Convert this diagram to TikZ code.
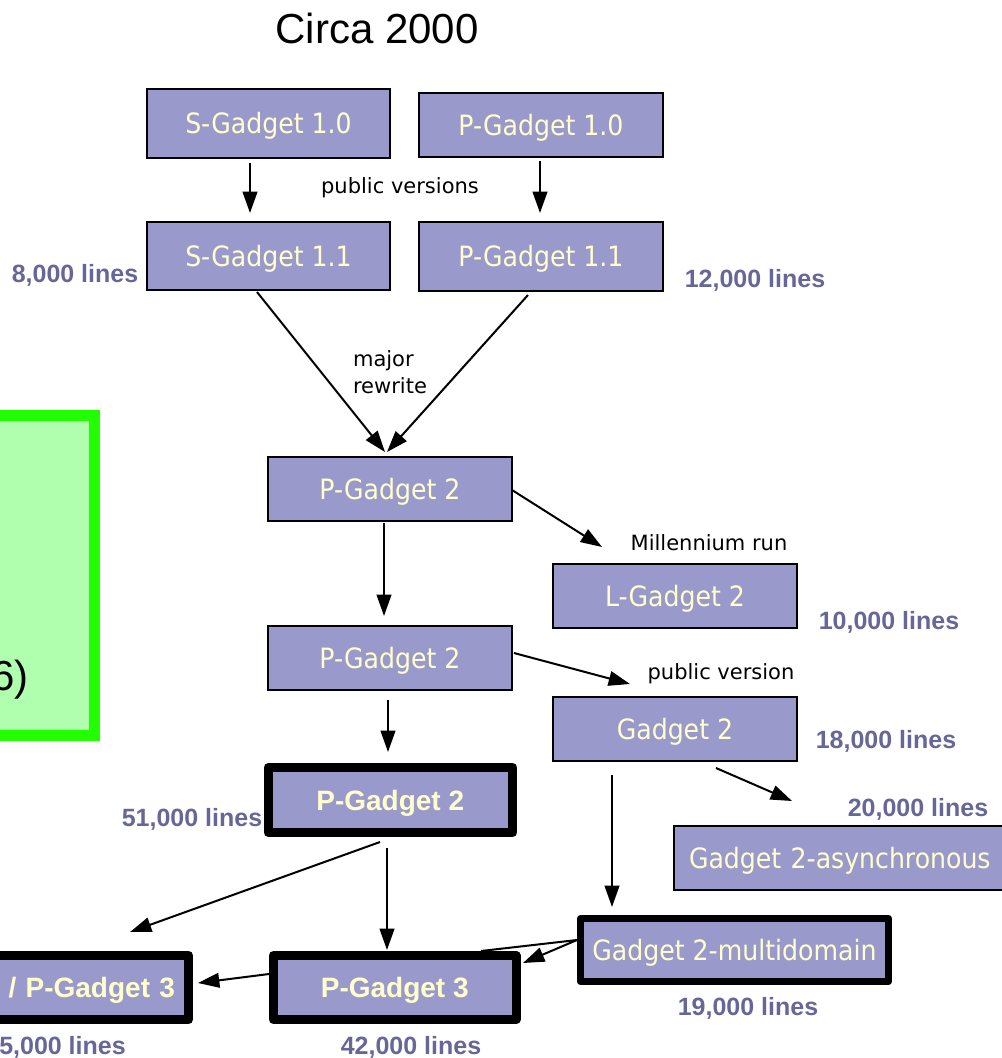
\documentclass[tikz,border=0pt]{standalone}
\usepackage{fontspec}
\setmainfont{Liberation Sans}
\newfontfamily\condfont{DejaVu Sans Condensed}
\newfontfamily\dvsfont{DejaVu Sans}
\usetikzlibrary{arrows.meta}
\definecolor{boxfill}{HTML}{9999CC}
\definecolor{boxtext}{HTML}{FFFFCC}
\definecolor{loccol}{HTML}{666699}
\definecolor{gfill}{HTML}{AFFFAF}
\definecolor{gdraw}{HTML}{22FF00}
\begin{document}
\begin{tikzpicture}[x=0.75pt,y=-0.75pt,
  gbox/.style 2 args={draw=black, fill=boxfill, line width=1.5pt,
    minimum width=#1*0.75pt, minimum height=#2*0.75pt, inner sep=0pt,
    text=boxtext, font=\condfont\fontsize{21}{25}\selectfont,
    text height=15.3pt, text depth=0pt},
  bbox/.style 2 args={gbox={#1}{#2}, line width=6.75pt, line join=round,
    font=\bfseries\fontsize{21}{25}\selectfont, text height=15pt},
  loclbl/.style={text=loccol, font=\bfseries\fontsize{18.75}{22}\selectfont,
    inner sep=0pt, text height=13.4pt, text depth=0pt},
  note/.style={font=\dvsfont\fontsize{15.75}{20}\selectfont, inner sep=0pt, align=left},
  arr/.style={line width=1.5pt, -{Triangle[length=16pt,width=11pt]}}
]
\useasboundingbox (0,0) rectangle (1002,1058);
\clip (0,0) rectangle (1002,1058);

% title
\node[font=\fontsize{31.5}{36}\selectfont, inner sep=0pt, text height=22.6pt, text depth=0pt] (title) at (377,28) {Circa 2000};

% green box (cut off at left)
\draw[draw=gdraw, fill=gfill, line width=8.25pt] (-30,415) rectangle (94.5,735.5);
\node[font=\fontsize{31.5}{36}\selectfont, inner sep=0pt, anchor=base east] (gtext) at (29,690) {6)};

% boxes
\node[gbox={243}{69}] (sg10) at (268.5,123.5) {S-Gadget 1.0};
\node[gbox={244}{64}] (pg10) at (541,125) {P-Gadget 1.0};
\node[gbox={243}{68}] (sg11) at (268.5,256) {S-Gadget 1.1};
\node[gbox={244}{69}] (pg11) at (541,256.5) {P-Gadget 1.1};
\node[gbox={244}{64}] (pga) at (390,489) {P-Gadget 2};
\node[gbox={244}{64}] (lg2) at (675,596) {L-Gadget 2};
\node[gbox={244}{64}] (pgb) at (390,658) {P-Gadget 2};
\node[gbox={244}{64}] (g2) at (675,729) {Gadget 2};
\node[gbox={334}{64}, text width=330*0.75pt, align=left, inner xsep=11.25pt, minimum width=0pt] (async) at (854,858) {Gadget 2-asynchronous};
\node[bbox={244.5}{65}] (pgc) at (390.25,800) {P-Gadget 2};
\node[bbox={242.5}{64}] (pg3) at (394.75,987.5) {P-Gadget 3};
\node[bbox={277}{64}, text width=250*0.75pt, align=right, inner xsep=10.125pt, minimum width=0pt] (pg3l) at (50,987.5) {/ P-Gadget 3};
\node[gbox={308}{63}, line width=5.25pt, line join=round] (md) at (734.5,950) {Gadget 2-multidomain};

% line-count labels
\node[loclbl] (l8) at (75,274) {8,000 lines};
\node[loclbl] (l12) at (755,279) {12,000 lines};
\node[loclbl] (l10) at (889,621) {10,000 lines};
\node[loclbl] (l18) at (886,740) {18,000 lines};
\node[loclbl] (l20) at (918,808) {20,000 lines};
\node[loclbl] (l51) at (192,818) {51,000 lines};
\node[loclbl] (l19) at (748,1007) {19,000 lines};
\node[loclbl] (l42) at (411,1046) {42,000 lines};
\node[loclbl, anchor=east] (l5) at (126,1046) {5,000 lines};

% notes
\node[note] (n1) at (400,188) {public versions};
\node[note] (n2) at (390,372) {major\\rewrite};
\node[note] (n3) at (709,543) {Millennium run};
\node[note] (n4) at (721,674) {public version};

% connector end points
\coordinate (a1s) at (250,163); \coordinate (a1e) at (250,213);
\coordinate (a2s) at (540,161); \coordinate (a2e) at (540,213);
\coordinate (a3s) at (257,292); \coordinate (a3e) at (385,452);
\coordinate (a4s) at (528,295); \coordinate (a4e) at (387,452);
\coordinate (a5s) at (512,490); \coordinate (a5e) at (602,547);
\coordinate (a6s) at (384,523); \coordinate (a6e) at (384,616);
\coordinate (a7s) at (514,653); \coordinate (a7e) at (630,684);
\coordinate (a8s) at (388,700); \coordinate (a8e) at (388,752);
\coordinate (a9s) at (716,768); \coordinate (a9e) at (792,801);
\coordinate (a10s) at (612,775); \coordinate (a10e) at (612,907);
\coordinate (a11s) at (380,842); \coordinate (a11e) at (130,932);
\coordinate (a12s) at (387,848); \coordinate (a12e) at (387,950);
\coordinate (a13s) at (577,940); \coordinate (a13e) at (523,963);
\coordinate (a14e) at (481,951);
\coordinate (a15s) at (269,974); \coordinate (a15e) at (198,983);

\draw[arr] (a1s) -- (a1e);
\draw[arr] (a2s) -- (a2e);
\draw[arr] (a3s) -- (a3e);
\draw[arr] (a4s) -- (a4e);
\draw[arr] (a5s) -- (a5e);
\draw[arr] (a6s) -- (a6e);
\draw[arr] (a7s) -- (a7e);
\draw[arr] (a8s) -- (a8e);
\draw[arr] (a9s) -- (a9e);
\draw[arr] (a10s) -- (a10e);
\draw[arr] (a11s) -- (a11e);
\draw[arr] (a12s) -- (a12e);
\draw[arr] (a13s) -- (a13e);
\draw[line width=1.5pt] (a13s) -- (a14e);
\draw[arr] (a15s) -- (a15e);
\end{tikzpicture}
\end{document}
